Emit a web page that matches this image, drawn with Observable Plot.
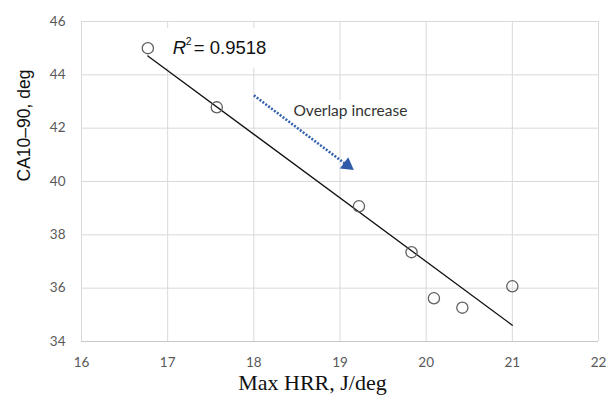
<!DOCTYPE html>
<html>
<head>
<meta charset="utf-8">
<script src="https://cdn.jsdelivr.net/npm/d3@7"></script>
<script src="https://cdn.jsdelivr.net/npm/@observablehq/plot@0.6"></script>
<style>
  html, body { margin: 0; padding: 0; background: #fff; }
  #chart { width: 611px; height: 401px; }
</style>
</head>
<body>
<div id="chart"></div>
<script>
// Data
const maxHRR = [16.77, 17.57, 19.22, 19.83, 20.09, 20.42, 21.00];
const ca1090 = [45.00, 42.78, 39.07, 37.35, 35.62, 35.27, 36.07];
const xTicks = [16, 17, 18, 19, 20, 21, 22];
const yTicks = [34, 36, 38, 40, 42, 44, 46];
const r2Label = "0.9518";
const arrowLabel = "Overlap increase";
const xLabel = "Max HRR, J/deg";
const yLabel = "CA10\u201390, deg";

const points = maxHRR.map((x, i) => ({x, y: ca1090[i]}));

// annotation anchors (data coordinates)
const arrowSeg = [{x1: 18.0, y1: 43.23, x2: 19.07, y2: 40.64}];
const arrowHead = [{x: 19.085, y: 40.61}];
const r2Box = [{x1: 16.99, x2: 18.35, y1: 44.25, y2: 45.74}];
const ovBox = [{x1: 18.40, x2: 19.88, y1: 42.36, y2: 43.04}];

const chart = Plot.plot({
  width: 611,
  height: 401,
  marginLeft: 81,
  marginRight: 13,
  marginTop: 21,
  marginBottom: 60,
  style: {fontFamily: "Lato, sans-serif", fontSize: "13.5px", color: "#595959", background: "#fff"},
  x: {domain: [16, 22]},
  y: {domain: [34, 46]},
  marks: [
    Plot.gridX(xTicks, {stroke: "#d9d9d9", strokeOpacity: 1, strokeWidth: 1}),
    Plot.gridY(yTicks, {stroke: "#d9d9d9", strokeOpacity: 1, strokeWidth: 1}),
    Plot.ruleY([34], {stroke: "#c8c8c8", strokeWidth: 1}),
    Plot.axisX(xTicks, {tickSize: 0, tickPadding: 16, label: null, fill: "#595959", fontSize: 13.5}),
    Plot.axisY(yTicks, {tickSize: 0, tickPadding: 16, label: null, fill: "#595959", fontSize: 13.5}),
    Plot.rect(r2Box, {x1: "x1", x2: "x2", y1: "y1", y2: "y2", fill: "white"}),
    Plot.rect(ovBox, {x1: "x1", x2: "x2", y1: "y1", y2: "y2", fill: "white"}),
    Plot.linearRegressionY(points, {x: "x", y: "y", ci: 0, stroke: "#111", strokeWidth: 1.3}),
    Plot.link(arrowSeg, {x1: "x1", y1: "y1", x2: "x2", y2: "y2", stroke: "#3560ae", strokeWidth: 2.6, strokeDasharray: "2 1.6"}),
    Plot.dot(arrowHead, {x: "x", y: "y", symbol: "triangle", r: 5.2, fill: "#2f5aa8", stroke: "none", rotate: 126.4}),
    Plot.dot(points, {x: "x", y: "y", r: 5.6, stroke: "#606060", strokeWidth: 1.3, fill: "none"}),
    Plot.text([r2Label], {x: 17.06, y: 45.0, text: d => "R", textAnchor: "start", fontFamily: "Liberation Sans, Arial, sans-serif", fontSize: 18.5, fontStyle: "italic", fill: "#111"}),
    Plot.text([r2Label], {x: 17.06, y: 45.0, text: d => "2", dx: 13, dy: -7, textAnchor: "start", fontFamily: "Liberation Sans, Arial, sans-serif", fontSize: 10.5, fill: "#111"}),
    Plot.text([r2Label], {x: 17.06, y: 45.0, text: d => "= " + d, dx: 21, textAnchor: "start", fontFamily: "Liberation Sans, Arial, sans-serif", fontSize: 18.5, fill: "#111"}),
    Plot.text([arrowLabel], {x: 18.46, y: 42.66, text: d => d, textAnchor: "start", fontFamily: "Lato, sans-serif", fontSize: 15.5, fill: "#333"}),
    Plot.text([xLabel], {x: 18.68, frameAnchor: "bottom", dy: 48, text: d => d, fontFamily: "Liberation Serif, Times New Roman, serif", fontSize: 22, fill: "#111"}),
    Plot.text([yLabel], {y: 40, frameAnchor: "left", dx: -57, rotate: -90, text: d => d, fontFamily: "Liberation Sans, Arial, sans-serif", fontSize: 17.5, fill: "#111"})
  ]
});
document.getElementById("chart").appendChild(chart);
</script>
</body>
</html>
